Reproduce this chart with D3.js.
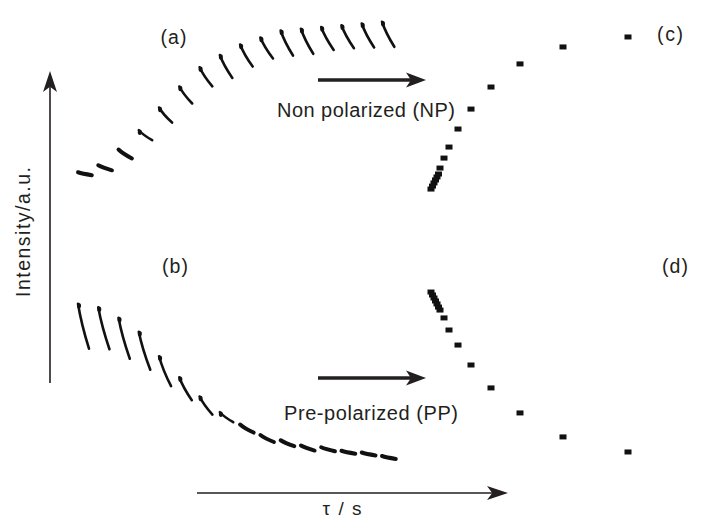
<!DOCTYPE html>
<html>
<head>
<meta charset="utf-8">
<script src="https://cdn.jsdelivr.net/npm/d3@7"></script>
<style>
  html, body { margin: 0; padding: 0; background: #fff; }
  svg { display: block; }
  text { font-family: "Liberation Sans", Arial, sans-serif; fill: #231f20; }
</style>
</head>
<body>
<svg id="chart" width="723" height="521"></svg>
<script>
// ---------- data ----------
const spectrumNo = [1, 2, 3, 4, 5, 6, 7, 8, 9, 10, 11, 12, 13, 14, 15, 16];
// apex intensity of each stacked spectrum (a.u.)
const npApex = [13, 17, 26, 37, 50, 62, 73, 80, 86, 90, 94, 95, 96, 97, 98, 99];
const ppApex = [95, 93, 87, 79, 65, 53, 42, 33, 26, 20, 17, 14, 13, 11, 10, 8];
// visible peak height of each spectrum (a.u.)
const npPeak = [1.7, 2.9, 5.1, 5.7, 8.6, 9.7, 10.9, 13.1, 12.6, 12.0, 14.3, 14.3, 13.1, 13.1, 13.7, 14.3];
const ppPeak = [25.7, 24.0, 23.4, 21.7, 17.1, 13.1, 10.3, 5.7, 4.6, 4.0, 3.4, 2.9, 2.3, 1.7, 1.7, 1.7];
// delay times tau (s) and integrated signals
const tau = [0.02, 0.05, 0.08, 0.11, 0.14, 0.17, 0.2, 0.28, 0.38, 0.56, 0.82, 1.22, 1.8, 2.66, 3.96];
const npSignal = [3.4, 5.1, 6.9, 8.6, 10.3, 12.0, 15.4, 21.1, 27.4, 37.7, 49.1, 61.7, 74.9, 84.6, 90.3];
const ppSignal = [101.7, 100.0, 98.3, 96.6, 94.9, 93.1, 91.4, 86.9, 80.0, 71.4, 60.0, 46.9, 32.6, 18.9, 10.3];
const panelLabels = ["(a)", "(b)", "(c)", "(d)"];
const arrowLabels = ["Non polarized (NP)", "Pre-polarized (PP)"];
const yAxisLabel = "Intensity/a.u.";
const xAxisLabel = "\u03c4 / s";

// ---------- scales ----------
const svg = d3.select("#chart");
const ink = "#111";

const xSpec = d3.scaleLinear().domain([1, 16]).range([78, 382]);
const yTop = d3.scaleLinear().domain([0, 100]).range([195, 20]);
const yBot = d3.scaleLinear().domain([0, 100]).range([470, 295]);
const peakLen = d3.scaleLinear().domain([0, 100]).range([0, 175]);
const xTau = d3.scaleLinear().domain([0, 4]).range([430, 630]);

svg.append("rect").attr("width", 723).attr("height", 521).attr("fill", "#fff");

// ---------- stacked spectra ----------
function drawSpectra(apex, peak, yScale) {
  const g = svg.append("g");
  const data = spectrumNo.map((n, i) => ({ n, a: apex[i], p: peak[i] }));
  g.selectAll("path").data(data).join("path")
    .attr("d", d => {
      const x = xSpec(d.n), y = yScale(d.a), dy = peakLen(d.p);
      const dx = 14 - Math.min(3, dy / 15);
      return `M${x},${y} Q${x + dx * 0.3},${y + dy * 0.45} ${x + dx},${y + dy}`;
    })
    .attr("fill", "none")
    .attr("stroke", ink)
    .attr("stroke-linecap", "round")
    .attr("stroke-width", d => peakLen(d.p) < 9 ? 4 : 2.6);
  g.selectAll("ellipse").data(data.filter(d => peakLen(d.p) >= 9)).join("ellipse")
    .attr("cx", d => xSpec(d.n) + 1)
    .attr("cy", d => yScale(d.a) + 2)
    .attr("rx", 2).attr("ry", 2.8)
    .attr("fill", ink);
}
drawSpectra(npApex, npPeak, yTop);
drawSpectra(ppApex, ppPeak, yBot);

// ---------- build-up / decay points ----------
function drawPoints(sig, yScale) {
  svg.append("g").selectAll("rect").data(tau.map((t, i) => ({ t, v: sig[i] }))).join("rect")
    .attr("x", d => xTau(d.t) - 3.5)
    .attr("y", d => yScale(d.v) - 2.5)
    .attr("width", 7).attr("height", 5)
    .attr("fill", ink);
}
drawPoints(npSignal, yTop);
drawPoints(ppSignal, yBot);

// ---------- arrows ----------
function arrow(x1, y1, x2, y2, w, headLen, headHalf) {
  const ang = Math.atan2(y2 - y1, x2 - x1);
  const bx = x2 - headLen * Math.cos(ang), by = y2 - headLen * Math.sin(ang);
  const px = -Math.sin(ang) * headHalf, py = Math.cos(ang) * headHalf;
  const nx = x2 - headLen * 0.75 * Math.cos(ang), ny = y2 - headLen * 0.75 * Math.sin(ang);
  svg.append("line").attr("x1", x1).attr("y1", y1).attr("x2", nx).attr("y2", ny)
    .attr("stroke", "#231f20").attr("stroke-width", w);
  svg.append("path")
    .attr("d", `M${x2},${y2} L${bx + px},${by + py} L${nx},${ny} L${bx - px},${by - py} Z`)
    .attr("fill", "#231f20");
}
// intensity axis
arrow(50, 383, 50, 71, 1.6, 21, 7);
// tau axis
arrow(197, 493, 508, 493, 1.6, 21, 7);
// experiment arrows
arrow(318, 80, 426, 80, 3.5, 20, 7.5);
arrow(318, 378, 426, 378, 3.5, 20, 7.5);

// ---------- texts ----------
function label(x, y, str, size, len, rot) {
  const t = svg.append("text")
    .attr("transform", `translate(${x},${y})` + (rot ? ` rotate(${rot})` : ""))
    .attr("text-anchor", "middle").attr("font-size", size).text(str);
  if (len) t.attr("textLength", len).attr("lengthAdjust", "spacing");
  return t;
}
label(29.5, 232, yAxisLabel, 19.5, 130, -90);
label(342, 515, xAxisLabel, 19, 39);
label(366, 117, arrowLabels[0], 20, 178);
label(371, 420, arrowLabels[1], 20, 174);

const labelPos = [[173.5, 43.5], [175, 273], [670, 41], [675, 273]];
panelLabels.forEach((l, i) => label(labelPos[i][0], labelPos[i][1], l, 19.5, 26));
</script>
</body>
</html>
